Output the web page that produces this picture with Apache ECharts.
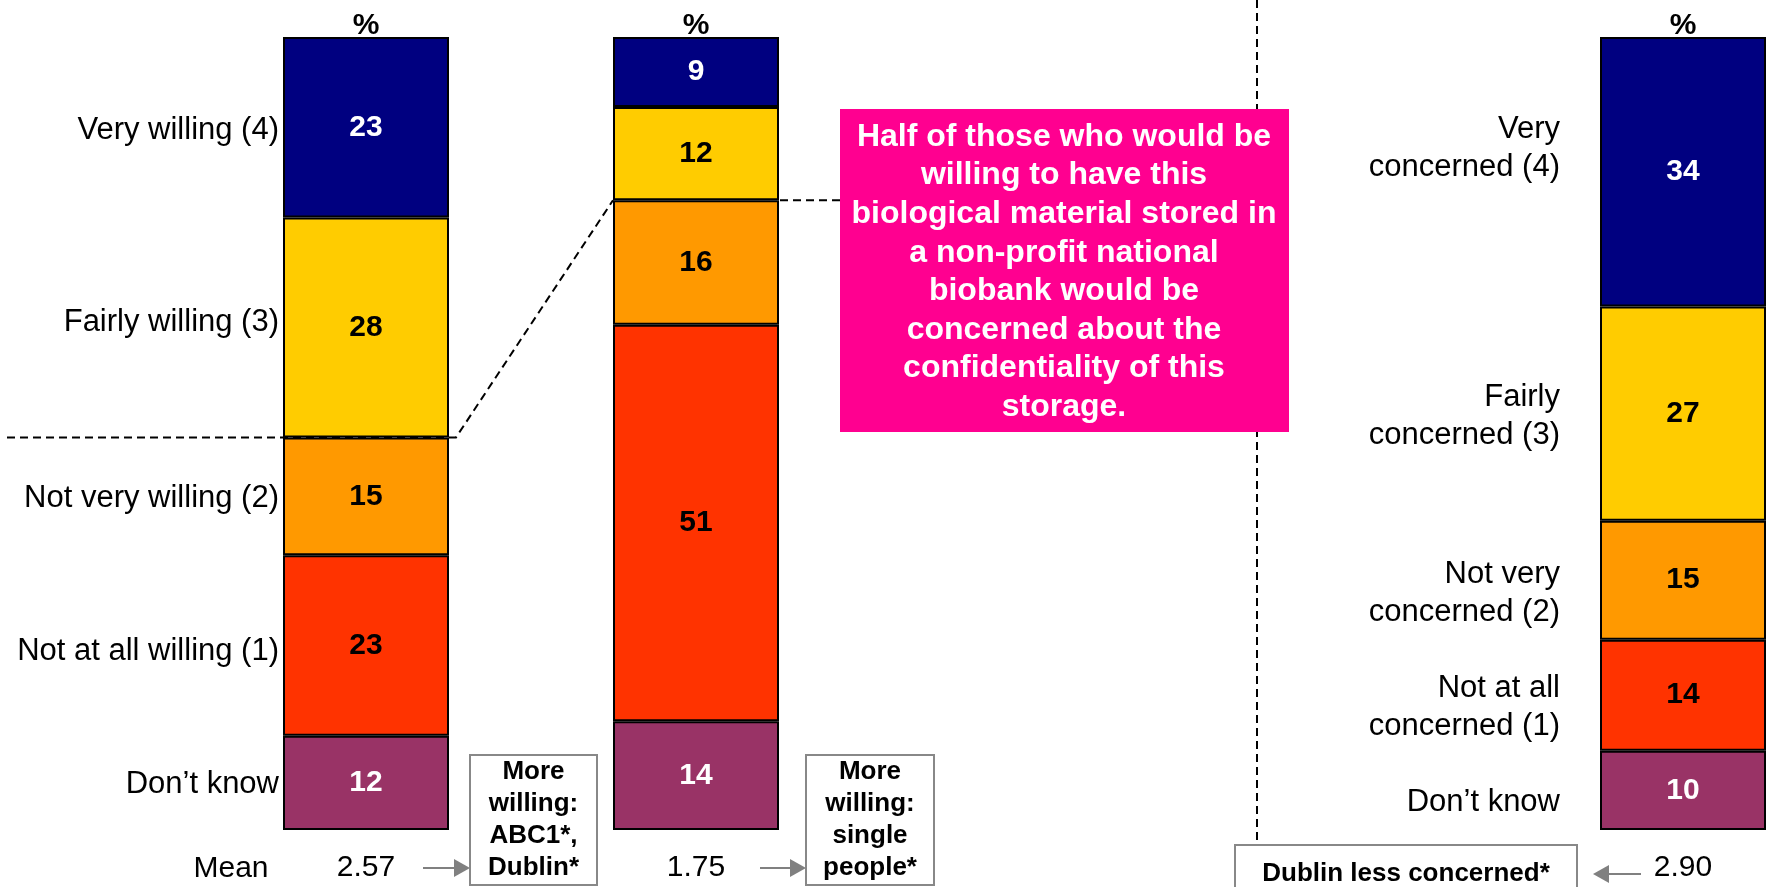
<!DOCTYPE html>
<html>
<head>
<meta charset="utf-8">
<title>Willingness and concern</title>
<script src="https://cdn.jsdelivr.net/npm/echarts@6/dist/echarts.min.js"></script>
<style>
    html, body { margin: 0; padding: 0; background: #fff; }
    #chart { width: 1767px; height: 887px; }
</style>
</head>
<body>
<div id="chart"></div>
<script>
// categories, bottom of the bar to the top
const willingLabels = ['Don’t know', 'Not at all willing (1)', 'Not very willing (2)', 'Fairly willing (3)', 'Very willing (4)'];
const concernLabels = ['Don’t know', 'Not at all\nconcerned (1)', 'Not very\nconcerned (2)', 'Fairly\nconcerned (3)', 'Very\nconcerned (4)'];

// values (%), same order
const willingValues = [12, 23, 15, 28, 23];
const willingSubValues = [14, 51, 16, 12, 9];
const concernValues = [10, 14, 15, 27, 34];

const meanValues = ['2.57', '1.75', '2.90'];
const barTitle = '%';

const colors = ['#993366', '#FF3300', '#FF9900', '#FFCC00', '#000080'];
const labelColors = ['#fff', '#000', '#000', '#000', '#fff'];
const FONT = '"Liberation Sans", Arial, sans-serif';

let chart = echarts.init(document.getElementById('chart'));

// one grid per bar
let bars = [
    { values: willingValues, left: 283, labels: willingLabels, labelDist: 4, nudge: [2, 6, 2, -5, 3] },
    { values: willingSubValues, left: 613, labels: null },
    { values: concernValues, left: 1600, labels: concernLabels, labelDist: 40, nudge: [12, 12, 13, 3, -23] }
];
const BAR_W = 166;
const TOP = 37;
const BOTTOM = 57;

let grid = [], xAxis = [], yAxis = [], series = [];
bars.forEach((b, gi) => {
    let total = b.values.reduce((a, c) => a + c, 0);
    grid.push({ left: b.left, width: BAR_W, top: TOP, bottom: BOTTOM });
    // top axis: the "%" heading
    xAxis.push({
        type: 'category', gridIndex: gi, position: 'top', data: [barTitle],
        axisLine: { show: false }, axisTick: { show: false },
        axisLabel: { fontSize: 30, fontWeight: 'bold', color: '#000', fontFamily: FONT, margin: -4 }
    });
    // bottom axis: the mean score
    xAxis.push({
        type: 'category', gridIndex: gi, position: 'bottom', data: [meanValues[gi]],
        axisLine: { show: false }, axisTick: { show: false },
        axisLabel: { fontSize: 30, color: '#000', fontFamily: FONT, margin: 23 }
    });
    yAxis.push({ type: 'value', gridIndex: gi, min: 0, max: total, show: false });

    b.values.forEach((v, i) => {
        series.push({
            type: 'bar', xAxisIndex: gi * 2 + 1, yAxisIndex: gi,
            stack: 'bar' + gi, barWidth: BAR_W, barGap: '-100%',
            data: [v], silent: true,
            itemStyle: { color: colors[i], borderColor: '#000', borderWidth: 2 },
            label: {
                show: true, position: 'inside',
                fontSize: 30, fontWeight: 'bold', fontFamily: FONT, color: labelColors[i]
            }
        });
    });
    // invisible copy of the stack, only to hang the category text on the left side
    if (b.labels) {
        b.values.forEach((v, i) => {
            series.push({
                type: 'bar', xAxisIndex: gi * 2 + 1, yAxisIndex: gi,
                stack: 'names' + gi, barWidth: BAR_W, barGap: '-100%',
                data: [v], silent: true, z: 1,
                itemStyle: { color: 'rgba(0,0,0,0)' },
                label: {
                    show: true, position: 'left', distance: b.labelDist,
                    offset: [0, b.nudge[i]],
                    formatter: () => b.labels[i],
                    fontSize: 31, lineHeight: 38, align: 'right',
                    fontFamily: FONT, color: '#000'
                }
            });
        });
    }
});

chart.setOption({
    animation: false,
    backgroundColor: '#fff',
    grid: grid,
    xAxis: xAxis,
    yAxis: yAxis,
    series: series
});

// boundary between "willing" and "not willing" on bar 1, and the matching split on bar 2
let sum = (arr, n) => arr.slice(0, n).reduce((a, c) => a + c, 0);
let yWill = chart.convertToPixel({ yAxisIndex: 0 }, sum(willingValues, 3));
let ySub = chart.convertToPixel({ yAxisIndex: 1 }, sum(willingSubValues, 3));

const DASH = { stroke: '#000', lineWidth: 2, lineDash: [8, 5], fill: null };
const GREY = '#808080';

function arrow(x1, x2, y) {
    let dir = x2 > x1 ? 1 : -1;
    let tip = x2, base = x2 - dir * 16;
    return [
        { type: 'line', shape: { x1: x1, y1: y, x2: base, y2: y }, style: { stroke: GREY, lineWidth: 2 } },
        { type: 'polygon', shape: { points: [[tip, y], [base, y - 9], [base, y + 9]] }, style: { fill: GREY } }
    ];
}

function noteBox(x, y, w, h, text, fontSize, lineHeight) {
    return [
        { type: 'rect', shape: { x: x, y: y, width: w, height: h }, style: { fill: '#fff', stroke: '#888', lineWidth: 2 } },
        {
            type: 'text', z: 10,
            style: {
                text: text, x: x + w / 2, y: y + h / 2, align: 'center', verticalAlign: 'middle',
                fontSize: fontSize, fontWeight: 'bold', fontFamily: FONT, fill: '#000', lineHeight: lineHeight
            }
        }
    ];
}

let graphic = [
    // dashed link from bar 1 to bar 2 and on to the callout
    { type: 'polyline', shape: { points: [[7, yWill], [456, yWill], [613, ySub]] }, style: DASH },
    { type: 'line', shape: { x1: 780, y1: ySub, x2: 840, y2: ySub }, style: DASH },
    // divider between the two questions
    { type: 'line', shape: { x1: 1257, y1: 0, x2: 1257, y2: 845 }, style: DASH },
    // callout
    { type: 'rect', shape: { x: 840, y: 109, width: 449, height: 323 }, style: { fill: '#FF0090' }, z: 5 },
    {
        type: 'text', z: 6,
        style: {
            text: 'Half of those who would be\nwilling to have this\nbiological material stored in\na non-profit national\nbiobank would be\nconcerned about the\nconfidentiality of this\nstorage.',
            x: 1064, y: 272, align: 'center', verticalAlign: 'middle',
            fontSize: 32, fontWeight: 'bold', fontFamily: FONT, fill: '#fff', lineHeight: 38.6
        }
    },
    {
        type: 'text',
        style: { text: 'Mean', x: 231, y: 869, align: 'center', verticalAlign: 'middle', fontSize: 30, fontFamily: FONT, fill: '#000' }
    }
]
    .concat(arrow(423, 470, 868))
    .concat(noteBox(470, 755, 127, 130, 'More\nwilling:\nABC1*,\nDublin*', 26, 32))
    .concat(arrow(760, 806, 868))
    .concat(noteBox(806, 755, 128, 130, 'More\nwilling:\nsingle\npeople*', 26, 32))
    .concat(noteBox(1235, 845, 342, 58, 'Dublin less concerned*', 26, 30))
    .concat(arrow(1641, 1593, 874));

chart.setOption({ graphic: graphic });
</script>
</body>
</html>
